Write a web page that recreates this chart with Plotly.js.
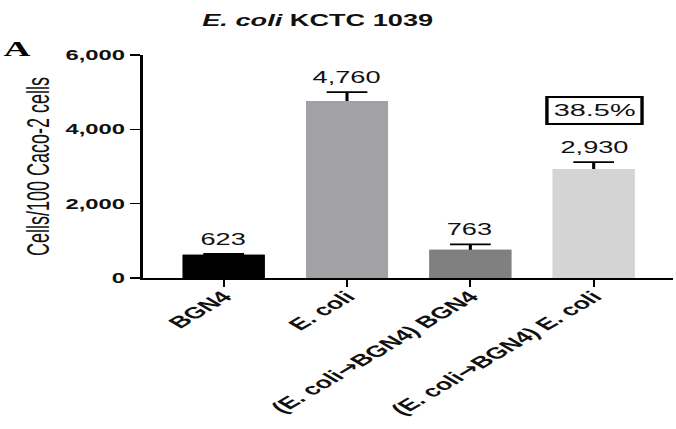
<!DOCTYPE html>
<html>
<head>
<meta charset="utf-8">
<script src="https://cdn.plot.ly/plotly-3.0.1.min.js"></script>
<style>
  html, body { margin: 0; padding: 0; background: #fff; overflow: hidden; }
  #wrap { width: 676px; height: 429px; overflow: hidden; }
  #chart { width: 398px; height: 429px; transform: scaleX(1.6985); transform-origin: 0 0; }
</style>
</head>
<body>
<div id="wrap"><div id="chart"></div></div>
<script>
// Data
const categories = ["BGN4", "E. coli", "(E. coli\u2192BGN4) BGN4", "(E. coli\u2192BGN4) E. coli"];
const values = [623, 4760, 763, 2930];
const errors = [25, 240, 140, 190];
const barColors = ["#000000", "#a2a2a6", "#808080", "#d4d4d4"];
const yTickVals = [0, 2000, 4000, 6000];
const yTickText = ["0", "2,000", "4,000", "6,000"];
const reductionText = "38.5%";

const FONT = "Liberation Sans, Arial, Helvetica, sans-serif";
const ARROW = '<span style="font-family:DejaVu Sans">\u2192</span>';
const xTickText = categories.map(c => c.replace("\u2192", ARROW));

// bars with error bars (SEM upward); an identical bar layer on top hides the lower half
const errTrace = {
  type: "bar", x: categories, y: values, width: 0.665,
  marker: { color: barColors, line: { width: 0 } },
  error_y: { type: "data", array: errors, visible: true, color: "#000", thickness: 1.8, width: 12 },
  hoverinfo: "skip"
};
const barTrace = {
  type: "bar", x: categories, y: values, width: 0.665,
  marker: { color: barColors, line: { width: 0 } },
  hoverinfo: "skip"
};

const labelAnns = categories.map((c, i) => ({
  x: c, y: values[i] + errors[i], xref: "x", yref: "y",
  text: values[i].toLocaleString("en-US"),
  showarrow: false, yanchor: "bottom", xanchor: "center", yshift: 4,
  font: { family: FONT, size: 16, color: "#111" }
}));

const layout = {
  width: 398, height: 429,
  margin: { l: 84, r: 2, t: 55, b: 151, pad: 0 },
  paper_bgcolor: "#fff", plot_bgcolor: "#fff",
  showlegend: false, barmode: "overlay",
  title: {
    text: "<i>E. coli</i> KCTC 1039",
    font: { family: FONT, size: 16, color: "#111", weight: "bold" },
    xref: "container", x: 0.47, xanchor: "center",
    yref: "container", y: 1 - 20 / 429, yanchor: "middle"
  },
  xaxis: {
    type: "category",
    range: [-0.657, 3.64],
    tickvals: categories, ticktext: xTickText,
    showline: true, linecolor: "#000", linewidth: 2,
    ticks: "outside", ticklen: 7, tickwidth: 1.3, tickcolor: "#000",
    tickangle: -45, ticklabelstandoff: -6,
    tickfont: { family: FONT, size: 16, color: "#111", weight: "bold" },
    showgrid: false, zeroline: false, fixedrange: true
  },
  yaxis: {
    range: [0, 6000],
    tickvals: yTickVals, ticktext: yTickText,
    showline: true, linecolor: "#000", linewidth: 1.6,
    ticks: "outside", ticklen: 6, tickwidth: 1.4, tickcolor: "#000",
    tickfont: { family: FONT, size: 14, color: "#111", weight: "bold" },
    showgrid: false, zeroline: false, fixedrange: true,
    title: { text: "Cells/100 Caco-2 cells", standoff: 4,
             font: { family: FONT, size: 18, color: "#111" } }
  },
  annotations: labelAnns.concat([
    { x: categories[3], y: 4507, xref: "x", yref: "y", text: reductionText,
      showarrow: false, xanchor: "center", yanchor: "middle",
      bordercolor: "#000", borderwidth: 2, borderpad: 3, bgcolor: "#fff",
      font: { family: FONT, size: 17, color: "#111" } },
    { x: -0.237, y: 1.027, xref: "paper", yref: "paper", text: "<b>A</b>",
      showarrow: false, xanchor: "center", yanchor: "middle",
      font: { family: "Liberation Serif, Times New Roman, serif", size: 22, color: "#000" } }
  ])
};

Plotly.newPlot("chart", [errTrace, barTrace], layout, { displayModeBar: false, staticPlot: true });
</script>
</body>
</html>
